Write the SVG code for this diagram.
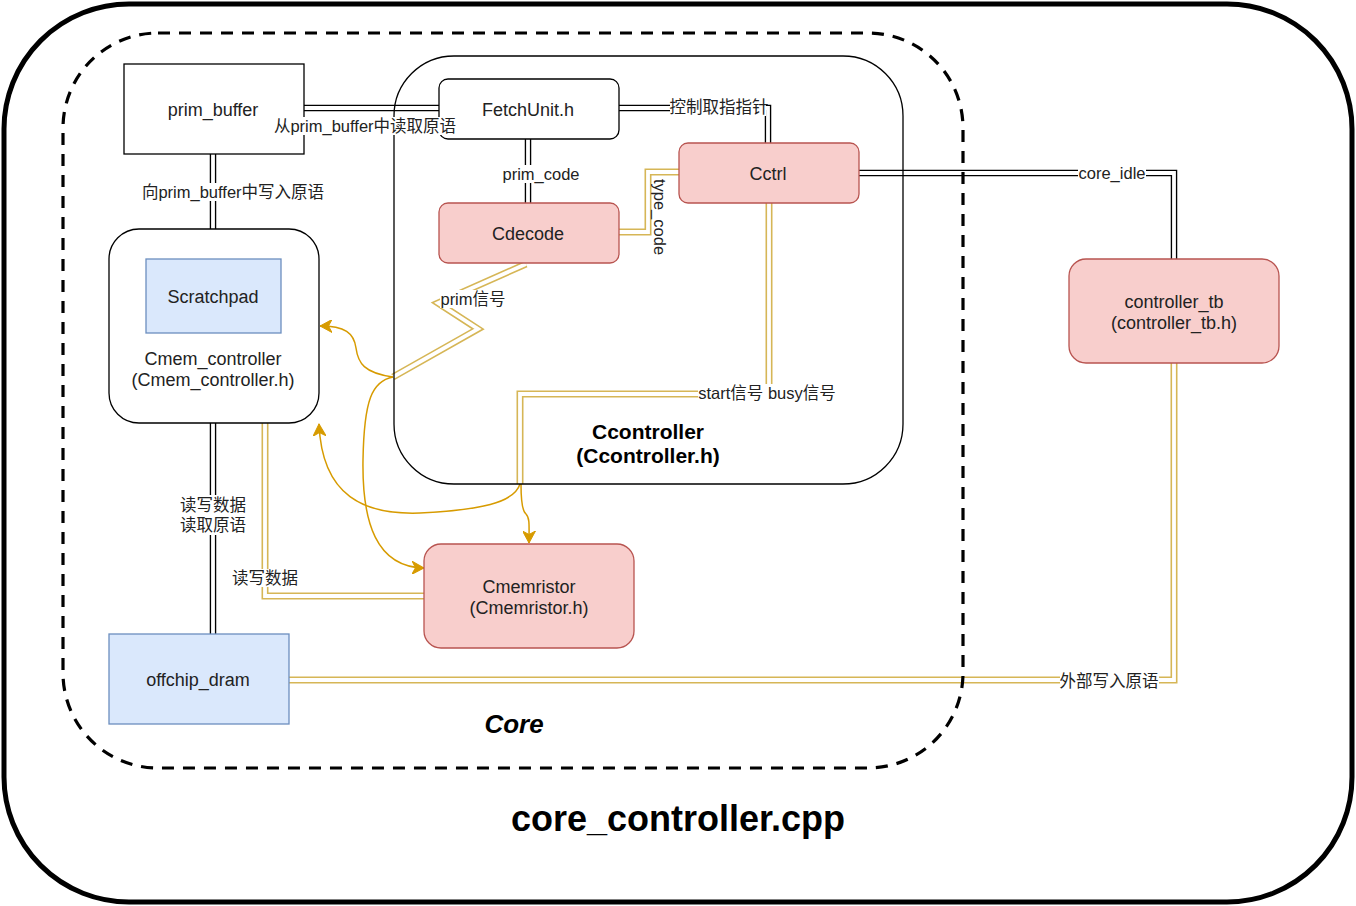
<svg xmlns="http://www.w3.org/2000/svg" xmlns:xlink="http://www.w3.org/1999/xlink" width="1356" height="906" viewBox="0 0 1356 906">
<style>
text{font-family:"Liberation Sans","Noto Sans CJK SC",sans-serif;fill:#222;dominant-baseline:central;text-anchor:middle}
.n{font-size:18px}
.e{font-size:16.5px}
.lb{fill:#fff;stroke:none}
.bo{fill:none;stroke:#000;stroke-width:6.5;stroke-linejoin:miter}
.yo{fill:none;stroke:#d6b656;stroke-width:7;stroke-linejoin:miter}
.wi{fill:none;stroke:#fff;stroke-width:3.8;stroke-linejoin:miter}
.cv{fill:none;stroke:#d79b00;stroke-width:1.5}
.red{fill:#f8cecc;stroke:#b85450;stroke-width:1.3}
.blue{fill:#dae8fc;stroke:#6c8ebf;stroke-width:1.3}
.wh{fill:#fff;stroke:#000;stroke-width:1.3}
</style>
<defs>
<marker id="arr" markerUnits="userSpaceOnUse" markerWidth="13" markerHeight="13" viewBox="0 0 13 13" refX="12" refY="6.5" orient="auto">
<path d="M0,0 L12,6.5 L0,13 L3.5,6.5 z" fill="#d79b00" stroke="#d79b00" stroke-width="1"/>
</marker>
<path id="p1" d="M304,108 H439"/>
<path id="p2" d="M213,154 V229"/>
<path id="p3" d="M528,139 V203"/>
<path id="p4" d="M619,108 H768 V143"/>
<path id="p5" d="M859,173 H1174 V259"/>
<path id="p6" d="M213,423 V634"/>
<path id="y1" d="M265,423 V596 H424"/>
<path id="y2" d="M289,680 H1174 V363"/>
<path id="y3" d="M619,232 H648 V172 H679"/>
<path id="y4" d="M769,203 V394 H520 V484"/>
<path id="y5" d="M526,264 L438,303 L478,329 L393,377"/>
</defs>
<rect x="0" y="0" width="1356" height="906" fill="#fff"/>
<g id="core_controller_cpp">
<rect x="4" y="4" width="1348" height="898" rx="125" fill="#fff" stroke="#000" stroke-width="5"/>
<text x="678" y="818" style="font-size:36px;font-weight:bold;fill:#000">core_controller.cpp</text>
</g>
<g id="connectors">
<use href="#p1" class="bo"/><use href="#p1" class="wi"/>
<use href="#p2" class="bo"/><use href="#p2" class="wi"/>
<use href="#p3" class="bo"/><use href="#p3" class="wi"/>
<use href="#p4" class="bo"/><use href="#p4" class="wi"/>
<use href="#p5" class="bo"/><use href="#p5" class="wi"/>
<use href="#p6" class="bo"/><use href="#p6" class="wi"/>
<use href="#y1" class="yo"/><use href="#y1" class="wi"/>
<use href="#y2" class="yo"/><use href="#y2" class="wi"/>
<use href="#y3" class="yo"/><use href="#y3" class="wi"/>
<use href="#y4" class="yo"/><use href="#y4" class="wi"/>
<use href="#y5" class="yo"/><use href="#y5" class="wi"/>
<path class="cv" d="M393,377 C364,373 358,363 356,348 C354,333 345,326 320,326" marker-end="url(#arr)"/>
<path class="cv" d="M393,377 C372,381 364,400 363,460 C362,522 376,567 424,568" marker-end="url(#arr)"/>
<path class="cv" d="M520,484 C514,503 480,510 420,513 C365,515 322,497 319,424" marker-end="url(#arr)"/>
<path class="cv" d="M521,484 C521,500 522,511 526,514 C530,518 529,526 529,543" marker-end="url(#arr)"/>
</g>
<g id="Core">
<rect x="63" y="33" width="900" height="735" rx="95" fill="none" stroke="#000" stroke-width="3.2" stroke-dasharray="12 9"/>
<text x="514" y="724" style="font-size:26px;font-weight:bold;font-style:italic;fill:#000">Core</text>
</g>
<g id="Ccontroller">
<rect x="394" y="56" width="509" height="428" rx="60" fill="none" stroke="#000" stroke-width="1.3"/>
<text x="648" y="431" style="font-size:21px;font-weight:bold;fill:#000">Ccontroller</text>
<text x="648" y="455" style="font-size:21px;font-weight:bold;fill:#000">(Ccontroller.h)</text>
</g>
<g id="prim_buffer">
<rect x="124" y="64" width="180" height="90" class="wh"/>
<text x="213" y="110" class="n">prim_buffer</text>
</g>
<g id="Cmem_controller">
<rect x="109" y="229" width="210" height="194" rx="30" class="wh"/>
<text x="213" y="359" class="n">Cmem_controller</text>
<text x="213" y="380" class="n">(Cmem_controller.h)</text>
</g>
<g id="Scratchpad">
<rect x="146" y="259" width="135" height="74" class="blue"/>
<text x="213" y="297" class="n">Scratchpad</text>
</g>
<g id="FetchUnit">
<rect x="439" y="79" width="180" height="60" rx="9" class="wh"/>
<text x="528" y="110" class="n">FetchUnit.h</text>
</g>
<g id="Cctrl">
<rect x="679" y="143" width="180" height="60" rx="9" class="red"/>
<text x="768" y="174" class="n">Cctrl</text>
</g>
<g id="Cdecode">
<rect x="439" y="203" width="180" height="60" rx="9" class="red"/>
<text x="528" y="234" class="n">Cdecode</text>
</g>
<g id="controller_tb">
<rect x="1069" y="259" width="210" height="104" rx="17" class="red"/>
<text x="1174" y="302" class="n">controller_tb</text>
<text x="1174" y="323" class="n">(controller_tb.h)</text>
</g>
<g id="Cmemristor">
<rect x="424" y="544" width="210" height="104" rx="17" class="red"/>
<text x="529" y="587" class="n">Cmemristor</text>
<text x="529" y="608" class="n">(Cmemristor.h)</text>
</g>
<g id="offchip_dram">
<rect x="109" y="634" width="180" height="90" class="blue"/>
<text x="198" y="680" class="n">offchip_dram</text>
</g>
<g id="edge_labels">
<rect class="lb" x="274" y="117" width="183" height="18"/>
<text x="365" y="126" class="e">从prim_buffer中读取原语</text>
<rect class="lb" x="142" y="183" width="182" height="18"/>
<text x="233" y="192" class="e">向prim_buffer中写入原语</text>
<rect class="lb" x="502" y="165" width="78" height="18"/>
<text x="541" y="174" class="e">prim_code</text>
<rect class="lb" x="670" y="98" width="96" height="18"/>
<text x="719" y="107" class="e">控制取指指针</text>
<rect class="lb" x="1078" y="164" width="68" height="18"/>
<text x="1112" y="173" class="e">core_idle</text>
<text x="660" y="217" class="e" transform="rotate(90 660 217)">type_code</text>
<rect class="lb" x="440" y="290" width="66" height="18"/>
<text x="473" y="299" class="e">prim信号</text>
<rect class="lb" x="698" y="384" width="138" height="18"/>
<text x="767" y="393" class="e">start信号 busy信号</text>
<rect class="lb" x="180" y="495" width="66" height="40"/>
<text x="213" y="505" class="e">读写数据</text>
<text x="213" y="525" class="e">读取原语</text>
<rect class="lb" x="232" y="569" width="66" height="18"/>
<text x="265" y="578" class="e">读写数据</text>
<rect class="lb" x="1060" y="672" width="99" height="18"/>
<text x="1109" y="681" class="e">外部写入原语</text>
</g>
</svg>
